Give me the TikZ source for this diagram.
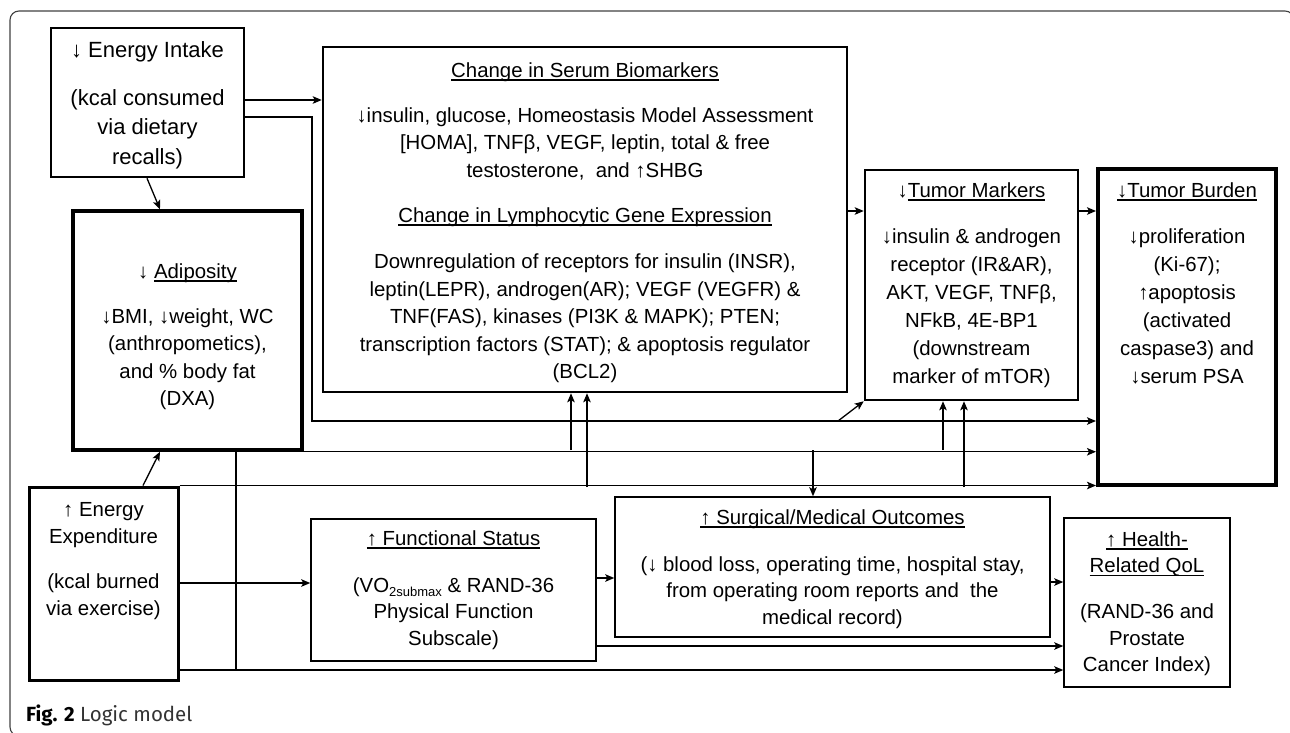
\documentclass[tikz,border=0pt]{standalone}
\usepackage{fontspec}
\setmainfont{Liberation Sans}
\newfontfamily\capfont{Fira Sans}
\usetikzlibrary{arrows.meta,calc}
\newcommand\ulx[1]{\setbox0=\hbox{#1}\rlap{\rule[-3.5pt]{\wd0}{1.5pt}}\box0}
\begin{document}
\begin{tikzpicture}[x=1pt,y=-1pt,
  bx/.style={draw, rectangle, inner sep=0pt, line width=#1},
  bx/.default=1.5pt,
  tx/.style={anchor=north, align=center, inner sep=0pt},
  ln/.style={line width=1.3pt},
  arr/.style={line width=1.3pt, -{Stealth[length=9pt,width=7.5pt,inset=2pt]}}]
\useasboundingbox (0,0) rectangle (1290,732);
\clip (0,0) rectangle (1290,732);
\draw[line width=1.1pt, black!75, rounded corners=9pt] (10,11) rectangle (1294,736);

% boxes
\node[bx=2.5pt, minimum width=193pt, minimum height=149pt] (ei) at (147.5,102.5) {};
\node[bx=2.5pt, minimum width=524pt, minimum height=345pt] (sb) at (585,219.5) {};
\node[bx=3.5pt, minimum width=229pt, minimum height=239pt] (ad) at (187.5,330.5) {};
\node[bx=2.5pt, minimum width=213pt, minimum height=230pt] (tm) at (971.5,285) {};
\node[bx=4pt, minimum width=178pt, minimum height=316pt] (tb) at (1187,327) {};
\node[bx=3pt, minimum width=149pt, minimum height=193pt] (ee) at (103.5,583.5) {};
\node[bx, minimum width=285pt, minimum height=142pt] (fs) at (453.5,590) {};
\node[bx, minimum width=435pt, minimum height=140pt] (so) at (832.5,567) {};
\node[bx, minimum width=166pt, minimum height=169pt] (hq) at (1147,602.5) {};

% texts
\node[tx, font=\fontsize{22}{29.5}\selectfont] (eit) at (147.5,36.35)
  {\strut↓ Energy Intake\\[18.5pt](kcal consumed\\via dietary\\recalls)};
\node[tx, font=\fontsize{20.4}{27.6}\selectfont] (sbt) at (585,57.68)
  {\strut\ulx{Change in Serum Biomarkers}\\[17.4pt]↓insulin, glucose, Homeostasis Model Assessment\\{}[HOMA], TNFβ, VEGF, leptin, total \& free\\testosterone,\ \ and ↑SHBG\\[17.4pt]\ulx{Change in Lymphocytic Gene Expression}\\[18.4pt]Downregulation of receptors for insulin (INSR),\\leptin(LEPR), androgen(AR); VEGF (VEGFR) \&\\TNF(FAS), kinases (PI3K \& MAPK); PTEN;\\transcription factors (STAT); \& apoptosis regulator\\(BCL2)};
\node[tx, font=\fontsize{20.4}{27.5}\selectfont] (adt) at (187.5,258.75)
  {\strut↓ \ulx{Adiposity}\\[17.5pt]↓BMI, ↓weight, WC\\(anthropometics),\\and \% body fat\\(DXA)};
\node[tx, font=\fontsize{20.4}{28}\selectfont] (tmt) at (971.5,177.4)
  {\strut↓\ulx{Tumor Markers}\\[18pt]↓insulin \& androgen\\receptor (IR\&AR),\\AKT, VEGF, TNFβ,\\NFkB, 4E-BP1\\(downstream\\marker of mTOR)};
\node[tx, font=\fontsize{20.4}{28}\selectfont] (tbt) at (1187,177.4)
  {\strut\ulx{↓Tumor Burden}\\[18pt]↓proliferation\\(Ki-67);\\↑apoptosis\\(activated\\caspase3) and\\↓serum PSA};
\node[tx, font=\fontsize{20.4}{27}\selectfont] (eet) at (103.5,497.1)
  {\strut↑ Energy\\Expenditure\\[18pt](kcal burned\\via exercise)};
\node[tx, font=\fontsize{20.4}{26.5}\selectfont] (fst) at (453.5,526.45)
  {\strut\ulx{↑ Functional Status}\\[20.5pt](VO\raisebox{-4pt}{\fontsize{13}{13}\selectfont 2submax} \& RAND-36\\Physical Function\\Subscale)};
\node[tx, font=\fontsize{20.4}{26.5}\selectfont] (sot) at (832.5,505.45)
  {\strut\ulx{↑ Surgical/Medical Outcomes}\\[20.5pt](↓ blood loss, operating time, hospital stay,\\from operating room reports and\ \ the\\medical record)};
\node[tx, font=\fontsize{20.4}{26.5}\selectfont] (hqt) at (1147,527.45)
  {\strut\ulx{↑ Health-}\\\ulx{Related QoL}\\[19.5pt](RAND-36 and\\Prostate\\Cancer Index)};

\node[anchor=base west, inner sep=0pt, font=\capfont\fontsize{20.5}{24}\selectfont, text=black!80] (cap) at (26,721) {\textbf{\color{black}Fig. 2} Logic model};

% junction coordinates
\coordinate (jA) at (312,421);
\coordinate (dA) at (838,421);
\coordinate (b1) at (571,450);
\coordinate (b2) at (813,450);
\coordinate (b3) at (943,450);
\coordinate (c1) at (587,487);
\coordinate (c2) at (964,487);
\coordinate (jC) at (236,670);

% connectors
\draw[arr] ([yshift=2.5pt]ei.east) coordinate (e1) -- (e1 -| sb.west);
\draw[arr] ([yshift=-14.5pt]ei.east) -| (jA) -- (jA -| tb.west);
\draw[arr] (dA) -- (tm.south west);
\draw[arr] ([xshift=-0.5pt]ei.south) -- ([xshift=-27.5pt]ad.north);
\draw[arr] ([xshift=39.5pt]ee.north) -- ([xshift=-27.5pt]ad.south);
\draw[arr] (ad.south east) -- (ad.south east -| tb.west);
\draw[arr] (b1) -- (b1 |- sb.south);
\draw[arr] (b2) -- (b2 |- so.north);
\draw[arr] (b3) -- (b3 |- tm.south);
\draw[arr] (ee.north east) -- (ee.north east -| tb.west);
\draw[arr] (c1) -- (c1 |- sb.south);
\draw[arr] (c2) -- (c2 |- tm.south);
\draw[ln] (ad.south -| jC) -- (jC);
\draw[arr] ([yshift=-86.5pt]ee.east) coordinate (e5) -- (e5 -| hq.west);
\draw[arr] ([yshift=0.5pt]ee.east) coordinate (e6) -- (e6 -| fs.west);
\draw[arr] ([yshift=12pt]fs.east) coordinate (e7) -- (e7 -| so.west);
\draw[arr] ([yshift=-56pt]fs.east) coordinate (e8) -- (e8 -| hq.west);
\draw[arr] ([yshift=-15pt]so.east) coordinate (e9) -- (e9 -| hq.west);
\draw[arr] ([yshift=8.5pt]sb.east) coordinate (e10) -- (e10 -| tm.west);
\draw[arr] ([yshift=74pt]tm.east) coordinate (e11) -- (e11 -| tb.west);
\end{tikzpicture}
\end{document}
